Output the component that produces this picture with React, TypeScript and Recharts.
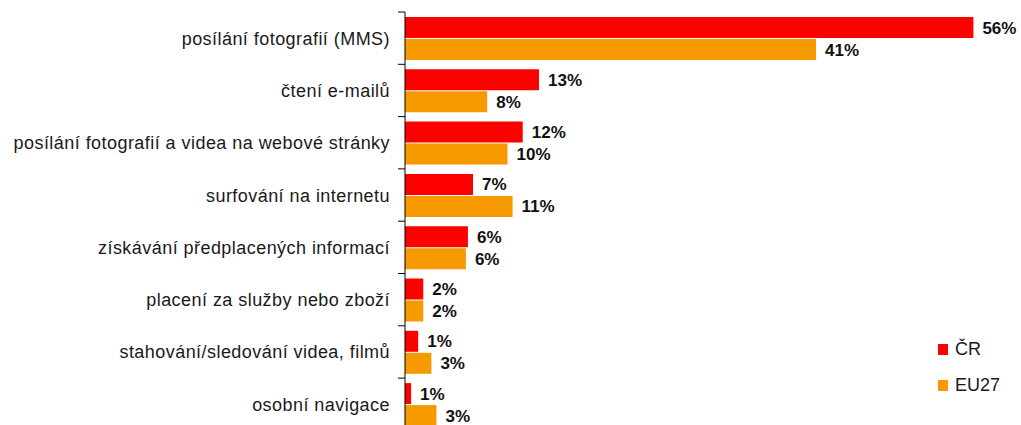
import { BarChart, Bar, XAxis, YAxis, LabelList } from 'recharts'

const categories = [
  'posílání fotografií (MMS)',
  'čtení e-mailů',
  'posílání fotografií a videa na webové stránky',
  'surfování na internetu',
  'získávání předplacených informací ',
  'placení za služby nebo zboží ',
  'stahování/sledování videa, filmů',
  'osobní navigace',
]
// bar lengths (labels show them rounded)
const crValues = [56.0, 13.2, 11.6, 6.7, 6.2, 1.8, 1.3, 0.6]
const euValues = [40.5, 8.1, 10.1, 10.6, 6.0, 1.8, 2.6, 3.1]
const seriesNames = ['ČR', 'EU27']

const CR_COLOR = '#ff0000'
const EU_COLOR = '#f79a00'
const FONT = '"Liberation Sans", Arial, sans-serif'

const data = categories.map((name, i) => ({ name, cr: crValues[i], eu: euValues[i] }))

const HEIGHT = 430
const MARGIN = { top: 4, right: 7, bottom: 7.6, left: 0 }
const BAND = (HEIGHT - MARGIN.top - MARGIN.bottom) / categories.length

function CategoryTick(props: any) {
  const { x, y, payload } = props
  return (
    <g>
      <line x1={x + 8} x2={x + 15} y1={y - BAND / 2} y2={y - BAND / 2} stroke="#000" strokeWidth={1} />
      <text x={x} y={y} dy="0.36em" textAnchor="end" fontSize={18} letterSpacing={0.45}
        fill="#1a1a1a" fontFamily={FONT}>
        {payload.value}
      </text>
    </g>
  )
}

function LegendBox() {
  const colors = [CR_COLOR, EU_COLOR]
  return (
    <div style={{ position: 'absolute', left: 930, top: 331, width: 80, fontFamily: FONT }}>
      {seriesNames.map((label, i) => (
        <div key={label} style={{ display: 'flex', alignItems: 'center', height: 20, marginBottom: 16 }}>
          <span style={{ display: 'inline-block', width: 10, height: 11, background: colors[i], marginRight: 7 }} />
          <span style={{ fontSize: 18, color: '#1a1a1a' }}>{label}</span>
        </div>
      ))}
    </div>
  )
}

const fmt = (v: any) => Math.round(Number(v)) + '%'
const labelStyle = { fontSize: 17, fontWeight: 'bold', fill: '#111', fontFamily: FONT }

export default function App() {
  // plot runs off the bottom edge like the original; keep the page itself 425px tall so no scrollbar
  return (
    <div style={{ padding: '8px 0 0 8px' }}>
      <style>{'body { margin: 0; }'}</style>
      <div style={{ position: 'relative', width: 1013, height: 417, overflow: 'hidden' }}>
        <BarChart
          width={1013}
          height={HEIGHT}
          data={data}
          layout="vertical"
          margin={MARGIN}
          barCategoryGap={5}
          barGap={1}
        >
          <XAxis type="number" domain={[0, 60]} hide />
          <YAxis
            type="category"
            dataKey="name"
            width={397}
            axisLine={{ stroke: '#000' }}
            tickLine={false}
            tickSize={7}
            tickMargin={8}
            interval={0}
            tick={<CategoryTick />}
          />
          <Bar dataKey="cr" name={seriesNames[0]} fill={CR_COLOR} isAnimationActive={false}>
            <LabelList dataKey="cr" position="right" offset={9} formatter={fmt} style={labelStyle} />
          </Bar>
          <Bar dataKey="eu" name={seriesNames[1]} fill={EU_COLOR} isAnimationActive={false}>
            <LabelList dataKey="eu" position="right" offset={9} formatter={fmt} style={labelStyle} />
          </Bar>
        </BarChart>
        <LegendBox />
      </div>
    </div>
  )
}
